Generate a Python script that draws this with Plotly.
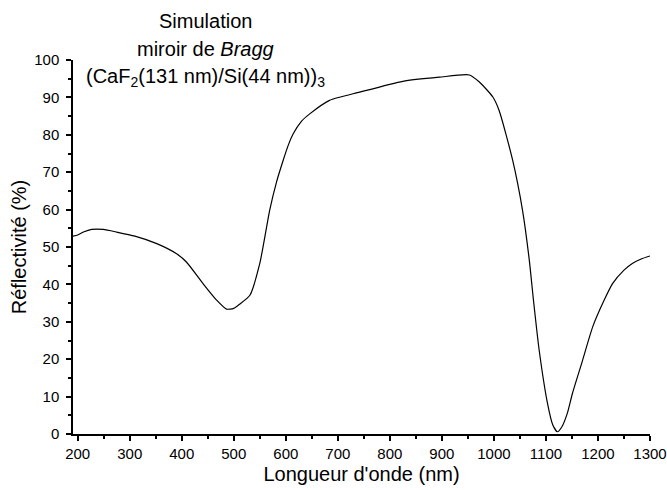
import plotly.graph_objects as go

wavelength_nm = [191, 200, 211, 227, 249, 275, 310, 352, 390, 409, 441, 467, 486, 500,
                 511, 531, 550, 569, 582, 595, 605, 614, 630, 646, 684, 742, 825, 895,
                 953, 972, 998, 1010, 1036, 1055, 1068, 1076, 1087, 1103, 1113, 1122,
                 1131, 1141, 1151, 1170, 1190, 1212, 1228, 1250, 1266, 1283, 1300]
reflectivity_pct = [52.9, 53.2, 54.0, 54.7, 54.7, 54.0, 52.9, 50.9, 48.2, 46.0, 40.2, 35.8,
                    33.4, 33.6, 34.7, 37.1, 45.6, 59.8, 67.3, 73.2, 77.3, 80.2, 83.6, 85.6,
                    89.2, 91.4, 94.3, 95.4, 96.0, 94.1, 90.1, 86.5, 73.2, 59.8, 46.5, 35.8,
                    22.4, 8.2, 2.5, 0.6, 2.0, 5.5, 10.9, 19.5, 28.7, 35.8, 40.2, 43.8, 45.6,
                    46.8, 47.6]

x_ticks = [200, 300, 400, 500, 600, 700, 800, 900, 1000, 1100, 1200, 1300]
y_ticks = [0, 10, 20, 30, 40, 50, 60, 70, 80, 90, 100]
title_lines = ["Simulation",
               "miroir de <i>Bragg</i>",
               "(CaF<sub>2</sub>(131 nm)/Si(44 nm))<sub>3</sub>"]

FONT = "Liberation Sans, Arial, sans-serif"
W, H = 667, 490
L, R, T, B = 73, 17, 60, 56

fig = go.Figure()
fig.add_trace(go.Scatter(
    x=wavelength_nm, y=reflectivity_pct, mode="lines",
    line=dict(color="black", width=1.2, shape="spline", smoothing=0.6),
    showlegend=False, hoverinfo="skip"))

axis_common = dict(
    showline=True, linecolor="black", linewidth=1.5, mirror=False,
    showgrid=False, zeroline=False, automargin=False,
    ticks="outside", ticklen=5, tickwidth=1.5, tickcolor="black",
    tickfont=dict(family=FONT, size=15, color="black"),
)

fig.update_layout(
    width=W, height=H,
    margin=dict(l=L, r=R, t=T, b=B),
    paper_bgcolor="white", plot_bgcolor="white",
    font=dict(family=FONT, color="black"),
    xaxis=dict(range=[191, 1300], tickvals=x_ticks,
               ticktext=[str(v) for v in x_ticks],
               ticklabelstandoff=0,
               minor=dict(dtick=50, ticks="outside", ticklen=3, tickwidth=1.5, tickcolor="black"),
               title=dict(text="Longueur d'onde (nm)", font=dict(family=FONT, size=20), standoff=6),
               **axis_common),
    yaxis=dict(range=[0, 100], tickvals=y_ticks,
               ticktext=[str(v) for v in y_ticks],
               ticklabelstandoff=4,
               minor=dict(dtick=5, ticks="outside", ticklen=3, tickwidth=1.5, tickcolor="black"),
               title=dict(text="Réflectivité (%)", font=dict(family=FONT, size=20), standoff=2),
               **axis_common),
)

title_x_px = 205
title_y_px = [21, 49, 78]
for txt, ypx in zip(title_lines, title_y_px):
    fig.add_annotation(
        xref="paper", yref="paper",
        x=(title_x_px - L) / (W - L - R), y=1 + (T - ypx) / (H - T - B),
        xanchor="center", yanchor="middle", showarrow=False,
        text=txt, font=dict(family=FONT, size=20, color="black"))

fig.write_html(
    "out.html",
    config={"displayModeBar": False},
    post_script="document.body.style.margin='0px';"
                "document.body.style.overflow='hidden';"
                "document.documentElement.style.overflow='hidden';")
